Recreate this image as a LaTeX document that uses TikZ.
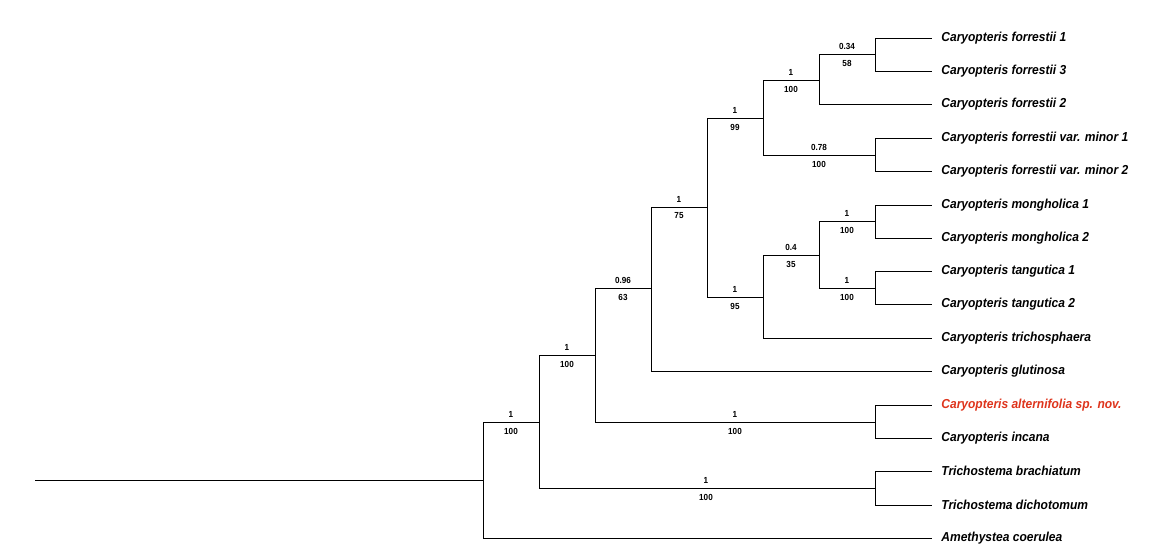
\documentclass[tikz,border=0pt]{standalone}
\usepackage{fontspec}
\setmainfont{Liberation Sans}[FakeStretch=0.925]
\definecolor{novred}{RGB}{222,52,28}

\begin{document}
\begin{tikzpicture}[x=1pt,y=-1pt,line width=0.75pt,
  taxon/.style={anchor=west,inner sep=0pt,font=\fontsize{13}{13}\selectfont\bfseries\itshape},
  supp/.style={inner sep=0pt,font=\fontsize{8.8}{9}\selectfont\bfseries}]
\useasboundingbox (0,0) rectangle (1165,558);

% root and backbone
\draw (35,480) -- (483,480);
\draw (539,422) -- (483,422) -- (483,538) -- (932,538);
\draw (595,355) -- (539,355) -- (539,488) -- (875,488);
\draw (875,471) -- (875,505);
\draw (651,288) -- (595,288) -- (595,422) -- (875,422);
\draw (875,405) -- (875,438);
\draw (707,207) -- (651,207) -- (651,371) -- (932,371);

% forrestii clade
\draw (763,118) -- (707,118) -- (707,297) -- (763,297);
\draw (819,80) -- (763,80) -- (763,155) -- (875,155);
\draw (875,138) -- (875,171);
\draw (875,54) -- (819,54) -- (819,104) -- (932,104);
\draw (875,38) -- (875,71);

% mongholica / tangutica clade
\draw (819,255) -- (763,255) -- (763,338) -- (932,338);
\draw (875,221) -- (819,221) -- (819,288) -- (875,288);
\draw (875,205) -- (875,238);
\draw (875,271) -- (875,304);

% tips
\foreach \y in {38,71,138,171,205,238,271,304,405,438,471,505}
  \draw (875,\y) -- (932,\y);

% taxa
\node[taxon] (t1) at (941,38) {Caryopteris forrestii 1};
\node[taxon] (t2) at (941,71) {Caryopteris forrestii 3};
\node[taxon] (t3) at (941,104) {Caryopteris forrestii 2};
\node[taxon] (t4) at (941,138) {Caryopteris forrestii var. minor 1};
\node[taxon] (t5) at (941,171) {Caryopteris forrestii var. minor 2};
\node[taxon] (t6) at (941,205) {Caryopteris mongholica 1};
\node[taxon] (t7) at (941,238) {Caryopteris mongholica 2};
\node[taxon] (t8) at (941,271) {Caryopteris tangutica 1};
\node[taxon] (t9) at (941,304) {Caryopteris tangutica 2};
\node[taxon] (t10) at (941,338) {Caryopteris trichosphaera};
\node[taxon] (t11) at (941,371) {Caryopteris glutinosa};
\node[taxon,text=novred] (t12) at (941,405) {Caryopteris alternifolia sp. nov.};
\node[taxon] (t13) at (941,438) {Caryopteris incana};
\node[taxon] (t14) at (941,471) {Trichostema brachiatum};
\node[taxon] (t15) at (941,505) {Trichostema dichotomum};
\node[taxon] (t16) at (941,538) {Amethystea coerulea};

% support values (posterior / bootstrap)
\foreach \x/\y/\pp/\bs [count=\i] in {511/422/1/100, 567/355/1/100, 623/288/0.96/63,
    679/207/1/75, 735/118/1/99, 735/297/1/95, 791/80/1/100, 847/54/0.34/58,
    819/155/0.78/100, 791/255/0.4/35, 847/221/1/100, 847/288/1/100,
    735/422/1/100, 706/488/1/100} {
  \node[supp] (pp\i) at (\x,\y-8) {\pp};
  \node[supp] (bs\i) at (\x,\y+9) {\bs};
}
\end{tikzpicture}
\end{document}
